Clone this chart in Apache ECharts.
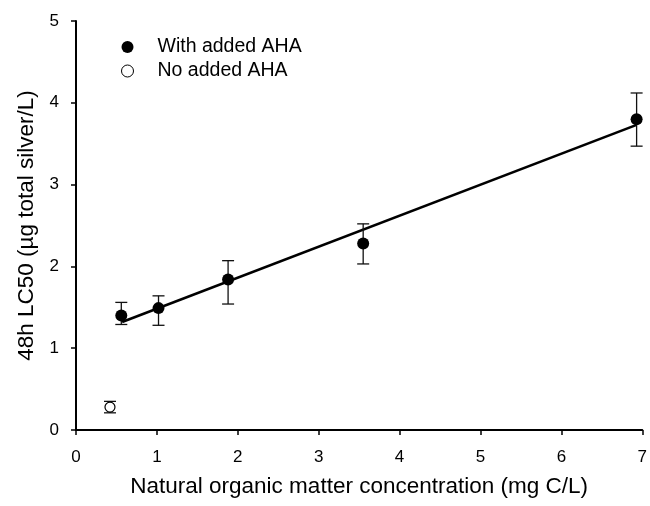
<!DOCTYPE html>
<html>
<head>
<meta charset="utf-8">
<script src="https://cdn.jsdelivr.net/npm/echarts@6/dist/echarts.min.js"></script>
<style>html,body{margin:0;padding:0;background:#fff}#c{width:650px;height:506px}</style>
</head>
<body>
<div id="c"></div>
<script>
// Data
var withX = [0.56, 1.02, 1.88, 3.55, 6.93];
var withY = [1.40, 1.49, 1.84, 2.28, 3.80];
var withLow = [1.29, 1.28, 1.54, 2.03, 3.47];
var withHigh = [1.56, 1.64, 2.07, 2.52, 4.12];

var noX = [0.42];
var noY = [0.28];
var noLow = [0.21];
var noHigh = [0.35];

var fitX = [0.57, 6.93];
var fitY = [1.32, 3.73];

var xTicks = [0, 1, 2, 3, 4, 5, 6, 7];
var yTicks = [0, 1, 2, 3, 4, 5];

var FONT = '"Liberation Sans", Arial, sans-serif';

function zip(a, b) { return a.map(function (v, i) { return [v, b[i]]; }); }
function errData(x, lo, hi) { return x.map(function (v, i) { return [v, lo[i], hi[i]]; }); }

function errRender(params, api) {
  var x = api.value(0), lo = api.value(1), hi = api.value(2);
  var pLo = api.coord([x, lo]);
  var pHi = api.coord([x, hi]);
  var w = 6;
  var st = { stroke: '#111', lineWidth: 1.3 };
  return {
    type: 'group',
    children: [
      { type: 'line', shape: { x1: pLo[0], y1: pLo[1], x2: pHi[0], y2: pHi[1] }, style: st },
      { type: 'line', shape: { x1: pLo[0] - w, y1: pLo[1], x2: pLo[0] + w, y2: pLo[1] }, style: st },
      { type: 'line', shape: { x1: pHi[0] - w, y1: pHi[1], x2: pHi[0] + w, y2: pHi[1] }, style: st }
    ]
  };
}

var chart = echarts.init(document.getElementById('c'), null, { renderer: 'canvas' });
chart.setOption({
  animation: false,
  backgroundColor: '#fff',
  textStyle: { fontFamily: FONT },
  grid: { left: 76, right: 2, top: 21, bottom: 76, containLabel: false },
  legend: {
    orient: 'vertical',
    left: 116, top: 32,
    itemWidth: 12, itemHeight: 12, itemGap: 4,
    textStyle: { fontFamily: FONT, fontSize: 19.5, color: '#000', padding: [0, 0, 0, 19] },
    data: [
      { name: 'With added AHA', icon: 'circle', itemStyle: { color: '#000', opacity: 1 } },
      { name: 'No added AHA', icon: 'circle', itemStyle: { color: '#fff', borderColor: '#000', borderWidth: 1, opacity: 1 } }
    ]
  },
  xAxis: {
    type: 'value', min: 0, max: 7, interval: 1,
    name: 'Natural organic matter concentration (mg C/L)',
    nameLocation: 'middle', nameGap: 45,
    nameTextStyle: { fontFamily: FONT, fontSize: 22.5, color: '#000' },
    axisLine: { onZero: false, lineStyle: { color: '#000', width: 2 } },
    axisTick: { show: true, length: 5, lineStyle: { color: '#000', width: 1.5 } },
    axisLabel: { fontFamily: FONT, fontSize: 17, color: '#000', margin: 19,
      formatter: function (v) { return xTicks.indexOf(v) >= 0 ? String(v) : ''; } },
    splitLine: { show: false }
  },
  yAxis: {
    type: 'value', min: 0, max: 5, interval: 1,
    name: '48h LC50 (\u00b5g total silver/L)',
    nameLocation: 'middle', nameGap: 36,
    nameTextStyle: { fontFamily: FONT, fontSize: 22.5, color: '#000' },
    axisLine: { onZero: false, lineStyle: { color: '#000', width: 2 } },
    axisTick: { show: true, length: 5, lineStyle: { color: '#000', width: 1.5 } },
    axisLabel: { fontFamily: FONT, fontSize: 17, color: '#000', margin: 17,
      formatter: function (v) { return yTicks.indexOf(v) >= 0 ? String(v) : ''; } },
    splitLine: { show: false }
  },
  series: [
    {
      name: 'fit', type: 'line', data: zip(fitX, fitY), symbol: 'none',
      lineStyle: { color: '#000', width: 2.6 }, z: 2, silent: true
    },
    {
      name: 'errWith', type: 'custom', renderItem: errRender,
      data: errData(withX, withLow, withHigh), z: 3, silent: true,
      encode: { x: 0, y: [1, 2] }
    },
    {
      name: 'errNo', type: 'custom', renderItem: errRender,
      data: errData(noX, noLow, noHigh), z: 3, silent: true,
      encode: { x: 0, y: [1, 2] }
    },
    {
      name: 'With added AHA', type: 'scatter', data: zip(withX, withY),
      symbol: 'circle', symbolSize: 12,
      itemStyle: { color: '#000', opacity: 1 }, z: 5
    },
    {
      name: 'No added AHA', type: 'scatter', data: zip(noX, noY),
      symbol: 'circle', symbolSize: 10,
      itemStyle: { color: '#fff', borderColor: '#000', borderWidth: 1.2, opacity: 1 }, z: 5
    }
  ]
});
</script>
</body>
</html>
